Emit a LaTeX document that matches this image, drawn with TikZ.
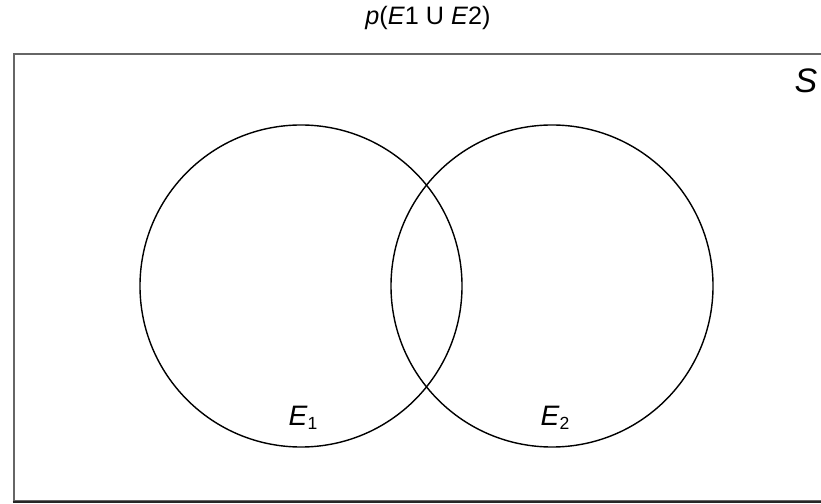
\documentclass[tikz,border=0pt]{standalone}
\usepackage{fontspec}
\setmainfont{Liberation Sans}
\usetikzlibrary{positioning}

\newcommand{\evsub}[2]{\textit{#1}\raisebox{-0.3ex}{\fontsize{15}{15}\selectfont #2}}

\begin{document}
\begin{tikzpicture}[x=0.03cm, y=0.03cm,
    event/.style={draw, circle, line width=1.2pt, minimum size=9.66cm, inner sep=0pt},
    space/.style={draw=black!60, line width=2.4pt, minimum width=26.58cm, minimum height=13.41cm, inner sep=0pt},
    lbl/.style={font=\fontsize{24}{28}\selectfont, inner sep=0pt}
  ]
    \useasboundingbox (0,0) rectangle (821,503);
    \clip (0,0) rectangle (821,503);

    \node[space] (S) at (457,225.5) {};
    \draw[black!85, line width=1.8pt] (S.south west) -- (S.south east);
    \node[font=\fontsize{29}{33}\selectfont\itshape, inner sep=0pt] (slabel) at (806,422) {S};
    \node[font=\fontsize{21.5}{25}\selectfont, inner sep=0pt] (title) at (428,485) {\textit{p}(\textit{E}1 U \textit{E}2)};

    \node[event] (e1) at (301,217) {};
    \node[event] (e2) at (552,217) {};

    \node[lbl] (e1lbl) at (303,85) {\evsub{E}{1}};
    \node[lbl] (e2lbl) at (555,85) {\evsub{E}{2}};
  \end{tikzpicture}
\end{document}
